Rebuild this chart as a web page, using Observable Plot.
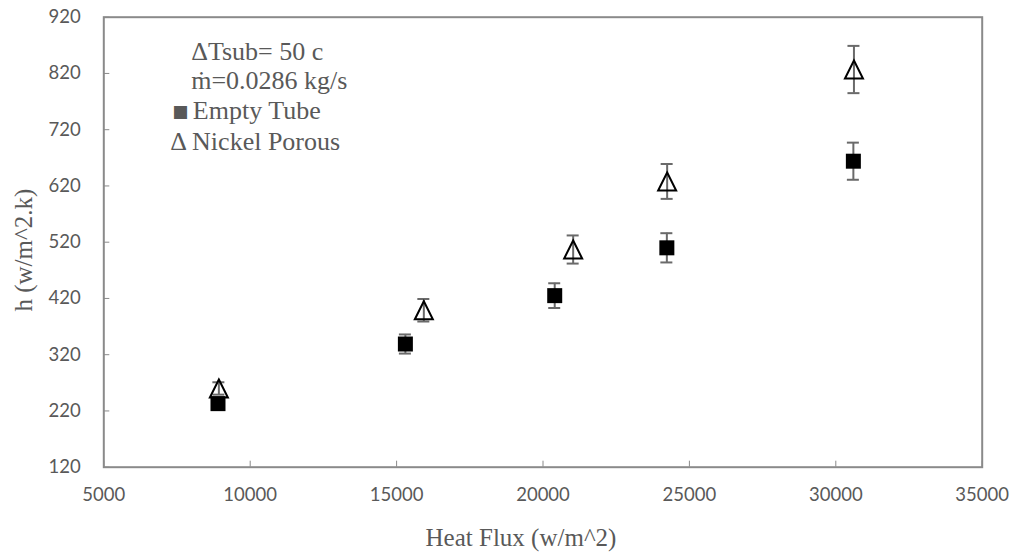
<!DOCTYPE html>
<html>
<head>
<meta charset="utf-8">
<script src="https://cdn.jsdelivr.net/npm/d3@7"></script>
<script src="https://cdn.jsdelivr.net/npm/@observablehq/plot@0.6"></script>
<style>
  html, body { margin: 0; padding: 0; background: #fff; }
  #chart svg { display: block; }
</style>
</head>
<body>
<div id="chart"></div>
<script>
// Heat transfer coefficient vs heat flux, empty tube vs nickel porous insert
const fluxEmpty = [8900, 15300, 20400, 24230, 30600];
const hEmpty = [233, 339, 425, 510, 664];
const errEmpty = [8, 17, 22, 26, 33];

const fluxNickel = [8930, 15930, 21030, 24240, 30620];
const hNickel = [260, 399, 507, 628, 827];
const errNickel = [11, 20, 25, 31, 42];

const xTicks = [5000, 10000, 15000, 20000, 25000, 30000, 35000];
const yTicks = [120, 220, 320, 420, 520, 620, 720, 820, 920];

const xTitle = "Heat Flux (w/m^2)";
const yTitle = "h (w/m^2.k)";
const noteLines = ["\u0394Tsub= 50 c", "m\u0307=0.0286 kg/s"];
const seriesNames = ["Empty Tube", "Nickel Porous"];

const empty = fluxEmpty.map((x, i) => ({x, h: hEmpty[i], e: errEmpty[i]}));
const nickel = fluxNickel.map((x, i) => ({x, h: hNickel[i], e: errNickel[i]}));

// Marker shapes: filled square and an open triangle as wide as it is tall
const squareSymbol = {
  draw(context, size) {
    const r = Math.sqrt(size / Math.PI);
    context.rect(-r, -r, 2 * r, 2 * r);
  }
};
const triangleSymbol = {
  draw(context, size) {
    const r = Math.sqrt(size / Math.PI);
    context.moveTo(0, -r);
    context.lineTo(r, r);
    context.lineTo(-r, r);
    context.closePath();
  }
};

const gray = "#595959";
const lineGray = "#8a8a8a";
const serif = "'Liberation Serif', 'Times New Roman', serif";
const sans = "Lato, 'Open Sans', sans-serif";

function errorBars(data) {
  return [
    Plot.ruleX(data, {x: "x", y1: d => d.h - d.e, y2: d => d.h + d.e, stroke: "#6a6a6a", strokeWidth: 2}),
    Plot.ruleY(data, {y: d => d.h - d.e, x1: "x", x2: "x", insetLeft: -6, insetRight: -6, stroke: "#6a6a6a", strokeWidth: 2}),
    Plot.ruleY(data, {y: d => d.h + d.e, x1: "x", x2: "x", insetLeft: -6, insetRight: -6, stroke: "#6a6a6a", strokeWidth: 2})
  ];
}

const note = {frameAnchor: "top-left", textAnchor: "start", lineAnchor: "middle", fontFamily: serif, fontSize: 26, fill: gray};

const chart = Plot.plot({
  width: 1017,
  height: 553,
  marginLeft: 103.3,
  marginRight: 35.3,
  marginTop: 16.7,
  marginBottom: 86.3,
  style: {background: "#fff"},
  x: {domain: [5000, 35000]},
  y: {domain: [120, 920]},
  marks: [
    Plot.axisX({ticks: xTicks, tickFormat: d => String(d), tickSize: -6, tickPadding: 27,
      stroke: lineGray, fill: gray, fontFamily: sans, fontSize: 18.5, label: null}),
    Plot.axisY({ticks: yTicks, tickFormat: d => String(d), tickSize: -6, tickPadding: 29,
      stroke: lineGray, fill: gray, fontFamily: sans, fontSize: 18.5, label: null}),
    Plot.frame({stroke: lineGray, strokeWidth: 2}),
    ...errorBars(nickel),
    ...errorBars(empty),
    Plot.dot(nickel, {x: "x", y: "h", symbol: triangleSymbol, r: 9, fill: "none", stroke: "#000", strokeWidth: 2}),
    Plot.dot(empty, {x: "x", y: "h", symbol: squareSymbol, r: 7.5, fill: "#000", stroke: "none"}),
    // axis titles
    Plot.text([xTitle], {text: d => d, frameAnchor: "bottom", textAnchor: "middle", lineAnchor: "middle",
      dx: -22, dy: 71, fontFamily: serif, fontSize: 25, fill: gray}),
    Plot.text([yTitle], {text: d => d, frameAnchor: "left", textAnchor: "middle", lineAnchor: "middle", rotate: -90,
      dx: -79.5, dy: 8, fontFamily: serif, fontSize: 25, fill: gray}),
    // in-plot notes and key
    Plot.text([noteLines[0]], {...note, text: d => d, dx: 87.4, dy: 34}),
    Plot.text([noteLines[1]], {...note, text: d => d, dx: 87.4, dy: 63.5}),
    Plot.text(["\u25A0"], {...note, text: d => d, dx: 68.5, dy: 94.3, fontFamily: "'DejaVu Sans', sans-serif", fontSize: 17}),
    Plot.text([seriesNames[0]], {...note, text: d => d, dx: 89, dy: 93.8}),
    Plot.text(["\u0394 " + seriesNames[1]], {...note, text: d => d, dx: 66.5, dy: 124})
  ]
});

document.getElementById("chart").append(chart);
</script>
</body>
</html>
